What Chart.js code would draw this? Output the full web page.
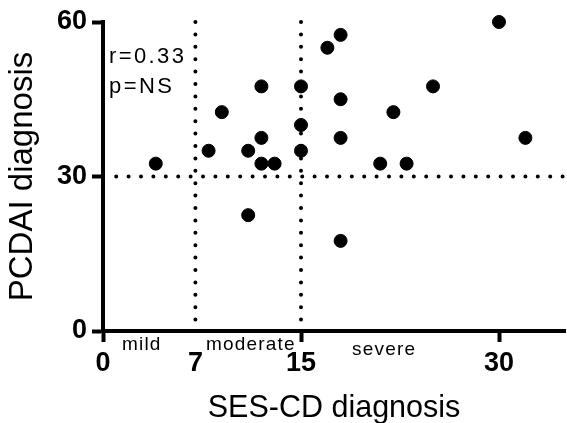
<!DOCTYPE html>
<html>
<head>
<meta charset="utf-8">
<script src="https://cdn.jsdelivr.net/npm/chart.js@4.4.1/dist/chart.umd.min.js"></script>
<style>
  html, body { margin: 0; padding: 0; background: #fff; }
  #wrap { width: 567px; height: 423px; }
</style>
</head>
<body>
<div id="wrap"><canvas id="myChart" width="567" height="423"></canvas></div>
<script>
// SES-CD vs PCDAI at diagnosis
const sesScore = [4, 8, 9, 11, 11, 12, 12, 12, 13, 15, 15, 15, 17, 18, 18, 18, 18, 21, 22, 23, 25, 30, 32];
const pcdaiScore = [32.5, 35, 42.5, 35, 22.5, 47.5, 37.5, 32.5, 32.5, 47.5, 40, 35, 55, 57.5, 45, 37.5, 17.5, 32.5, 42.5, 32.5, 47.5, 60, 37.5];
const xTicks = [0, 7, 15, 30];
const yTicks = [0, 30, 60];
const sesCutoffs = [7, 15];
const pcdaiCutoff = 30;
const zoneLabels = ['mild', 'moderate', 'severe'];
const statLines = ['r=0.33', 'p=NS'];

const points = sesScore.map((x, i) => ({ x: x, y: pcdaiScore[i] }));

const dotted = {
    type: 'line',
    showLine: true,
    borderColor: '#000',
    borderWidth: 4,
    borderDash: [0, 12.4],
    borderCapStyle: 'round',
    pointRadius: 0,
    clip: false
};

const datasets = [{
    data: points,
    backgroundColor: '#000',
    borderColor: '#000',
    pointRadius: 6.5,
    pointHoverRadius: 6.5,
    clip: false
}];
sesCutoffs.forEach(c => {
    datasets.push(Object.assign({}, dotted, { data: [{ x: c, y: 60 }, { x: c, y: 0 }] }));
});
datasets.push(Object.assign({}, dotted, { data: [{ x: 1, y: pcdaiCutoff }, { x: 35, y: pcdaiCutoff }] }));

// draw text with extra space between letters
function spacedText(ctx, str, x, y, gap) {
    for (const ch of str) {
        ctx.fillText(ch, x, y);
        x += ctx.measureText(ch).width + gap;
    }
}

const tickFont = { family: '"Liberation Sans", Arial, sans-serif', size: 27, weight: 'bold' };

// text inside the plot: stats and severity zones
const annotations = {
    id: 'annotations',
    afterDraw(chart) {
        const ctx = chart.ctx;
        ctx.save();
        ctx.fillStyle = '#000';
        ctx.textBaseline = 'alphabetic';
        ctx.textAlign = 'left';
        ctx.font = '22px "Liberation Sans", Arial, sans-serif';
        spacedText(ctx, statLines[0], 109, 63, 2.4);
        spacedText(ctx, statLines[1], 109, 93, 2.4);
        ctx.font = '19px "Liberation Sans", Arial, sans-serif';
        spacedText(ctx, zoneLabels[0], 122, 350, 1.2);
        spacedText(ctx, zoneLabels[1], 206, 350, 1.2);
        spacedText(ctx, zoneLabels[2], 352, 355, 1.2);
        ctx.restore();
    }
};

new Chart(document.getElementById('myChart'), {
    type: 'scatter',
    data: { datasets: datasets },
    options: {
        responsive: false,
        animation: false,
        layout: { autoPadding: false, padding: { top: 22, right: 2, left: 0, bottom: 0 } },
        plugins: { legend: { display: false }, tooltip: { enabled: false } },
        scales: {
            x: {
                type: 'linear',
                min: 0,
                max: 35,
                afterBuildTicks: s => { s.ticks = xTicks.map(v => ({ value: v })); },
                afterFit: s => { s.height = 92; },
                border: { display: true, color: '#000', width: 4 },
                grid: {
                    drawOnChartArea: false,
                    tickLength: 11,
                    tickWidth: 4,
                    tickColor: c => (c.tick && c.tick.value === 7) ? 'rgba(0,0,0,0)' : '#000'
                },
                ticks: { color: '#000', font: tickFont, padding: 5, maxRotation: 0 },
                title: {
                    display: true, text: 'SES-CD diagnosis', color: '#000',
                    font: { family: '"Liberation Sans", Arial, sans-serif', size: 30.5 },
                    padding: { top: 0, bottom: -4 }
                }
            },
            y: {
                type: 'linear',
                min: 0,
                max: 60,
                afterBuildTicks: s => { s.ticks = yTicks.map(v => ({ value: v })); },
                afterFit: s => { s.width = 103; },
                border: { display: true, color: '#000', width: 4 },
                grid: { drawOnChartArea: false, tickLength: 11, tickWidth: 4, tickColor: '#000' },
                ticks: { color: '#000', font: tickFont, padding: 5 },
                title: {
                    display: true, text: 'PCDAI diagnosis', color: '#000',
                    font: { family: '"Liberation Sans", Arial, sans-serif', size: 33 },
                    padding: { top: 3, bottom: 0 }
                }
            }
        }
    },
    plugins: [annotations]
});
</script>
</body>
</html>
